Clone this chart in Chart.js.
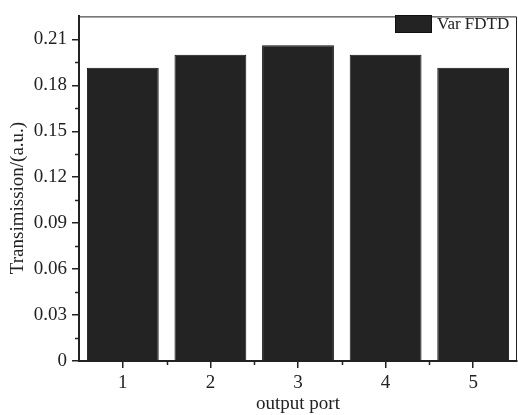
<!DOCTYPE html>
<html>
<head>
<meta charset="utf-8">
<script src="https://cdn.jsdelivr.net/npm/chart.js@4.4.0/dist/chart.umd.min.js"></script>
<style>
  html, body { margin: 0; padding: 0; background: #fff; }
  #wrap { width: 518px; height: 415px; }
</style>
</head>
<body>
<div id="wrap"><canvas id="myChart"></canvas></div>
<script>
const ports = ["1", "2", "3", "4", "5"];
const transmission = [0.1915, 0.2, 0.2062, 0.2, 0.1915];
const seriesName = "Var FDTD";
const yTicks = [0, 0.03, 0.06, 0.09, 0.12, 0.15, 0.18, 0.21];

const FONT = "Liberation Serif";
const INK = "#222";

// minor ticks, frame, y title and legend box drawn by hand
const frame = {
    id: "frame",
    afterDraw(chart) {
        const c = chart.ctx;
        const a = chart.chartArea;
        const x = chart.scales.x;
        const y = chart.scales.y;
        c.save();
        c.strokeStyle = INK;

        // thin top/right frame
        c.lineWidth = 1;
        c.beginPath();
        c.moveTo(a.left, a.top + 0.5);
        c.lineTo(a.right - 0.5, a.top + 0.5);
        c.lineTo(a.right - 0.5, a.bottom);
        c.stroke();

        // minor y ticks
        c.lineWidth = 1.5;
        c.beginPath();
        for (let v = 0.015; v < y.max; v += 0.03) {
            const py = Math.round(y.getPixelForValue(v)) + 0.5;
            c.moveTo(a.left, py);
            c.lineTo(a.left - 4, py);
        }
        // minor x ticks between ports
        for (let i = 0; i < ports.length - 1; i++) {
            const px = Math.round((x.getPixelForValue(i) + x.getPixelForValue(i + 1)) / 2) + 0.5;
            c.moveTo(px, a.bottom);
            c.lineTo(px, a.bottom + 4);
        }
        c.stroke();

        // y title
        c.fillStyle = INK;
        c.font = "19px '" + FONT + "'";
        c.textAlign = "center";
        c.textBaseline = "middle";
        c.save();
        c.translate(18, 198);
        c.rotate(-Math.PI / 2);
        c.fillText("Transimission/(a.u.)", 0, 0);
        c.restore();

        // legend
        c.fillStyle = "#232323";
        c.fillRect(395, 15, 37, 18);
        c.strokeStyle = "#111";
        c.lineWidth = 1;
        c.strokeRect(395.5, 15.5, 36, 17);
        c.fillStyle = INK;
        c.font = "17px '" + FONT + "'";
        c.textAlign = "left";
        c.fillText(seriesName, 437, 25);
        c.restore();
    }
};

const data = {
    labels: ports,
    datasets: [
        {
            label: seriesName,
            data: transmission,
            backgroundColor: "#232323",
            borderColor: "#111",
            borderWidth: 1,
            inflateAmount: 0,
            categoryPercentage: 1,
            barPercentage: 0.82,
        },
    ],
};

const config = {
    type: "bar",
    data: data,
    options: {
        responsive: true,
        maintainAspectRatio: false,
        animation: false,
        layout: { padding: { top: 7, right: 1, left: 0, bottom: 0 } },
        plugins: {
            legend: { display: false },
            tooltip: { enabled: false },
        },
        scales: {
            x: {
                grid: {
                    offset: false,
                    drawOnChartArea: false,
                    drawTicks: true,
                    tickLength: 7,
                    color: INK,
                    lineWidth: 1.5,
                },
                border: { color: INK, width: 2 },
                ticks: {
                    color: INK,
                    font: { family: FONT, size: 19 },
                    padding: 4,
                },
                title: {
                    display: true,
                    text: "output port",
                    color: INK,
                    font: { family: FONT, size: 19 },
                    padding: { top: 0, bottom: 0 },
                },
                afterFit: (s) => { s.height = 54; },
            },
            y: {
                min: 0,
                max: 0.225,
                afterBuildTicks: (s) => { s.ticks = yTicks.map(v => ({ value: v })); },
                grid: {
                    drawOnChartArea: false,
                    drawTicks: true,
                    tickLength: 7,
                    color: INK,
                    lineWidth: 1.5,
                },
                border: { color: INK, width: 2 },
                ticks: {
                    color: INK,
                    font: { family: FONT, size: 19 },
                    padding: 5,
                    callback: function (value) {
                        return value === 0 ? "0" : value.toFixed(2);
                    }
                },
                afterFit: (s) => { s.width = 79; },
            },
        },
    },
    plugins: [frame],
};

const myChart = new Chart(document.getElementById("myChart").getContext("2d"), config);
</script>
</body>
</html>
